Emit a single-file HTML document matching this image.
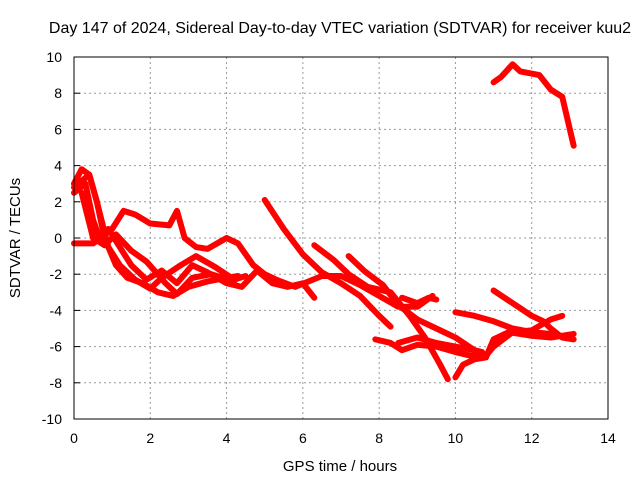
<!DOCTYPE html>
<html><head><meta charset="utf-8"><style>body{margin:0;background:#fff}svg text{font-family:"Liberation Sans",sans-serif;font-size:14px;fill:#000}</style></head>
<body>
<svg id="c" width="640" height="480">
<text x="340" y="33" text-anchor="middle" style="font-size:16px">Day 147 of 2024, Sidereal Day-to-day VTEC variation (SDTVAR) for receiver kuu2</text>
<text x="340" y="471" text-anchor="middle" style="font-size:15px">GPS time / hours</text>
<text transform="translate(20,238) rotate(-90)" text-anchor="middle" style="font-size:15px">SDTVAR / TECUs</text>
<g id="grid"></g><g id="series"></g>
<rect x="74" y="57" width="534" height="362" fill="none" stroke="#000"/>
<g id="ticks"></g>
</svg>
<script>
const xTicks=[0,2,4,6,8,10,12,14];
const yTicks=[-10,-8,-6,-4,-2,0,2,4,6,8,10];
const s1=[[0,-0.3],[0.5,-0.3],[1,0.5],[1.3,1.5],[1.6,1.3],[2,0.8],[2.5,0.7],[2.7,1.5],[2.9,0],[3.2,-0.5],[3.5,-0.6],[4,0],[4.3,-0.3],[4.7,-1.5],[5,-2],[5.3,-2.3],[5.8,-2.7],[6.5,-2.1],[7,-2.1],[7.5,-2.6],[8,-3.2],[8.5,-3.8],[9,-3.8],[9.4,-3.2]];
const s2=[[0,3],[0.2,3.8],[0.4,3.5],[0.6,2],[0.8,0],[1.1,-1.5],[1.4,-2.2],[1.8,-2.5],[2.2,-3],[2.6,-3.2],[3,-2.7],[3.5,-2.4],[4,-2.2],[4.3,-2.1]];
const s3=[[0,2.5],[0.3,3],[0.5,1],[0.7,-0.2],[0.9,0.5],[1.2,-0.5],[1.5,-1.5],[1.9,-2.3],[2.3,-1.8],[2.7,-2.5],[3.1,-1.5],[3.5,-1.9],[4,-2.5],[4.4,-2.7],[4.8,-1.8],[5.2,-2.5],[5.6,-2.7],[6,-2.5],[6.3,-3.3]];
const s4=[[0,2.8],[0.4,3.5],[0.6,2],[0.9,-0.5],[1.2,-1.5],[1.6,-2.3],[2,-2.8],[2.3,-2.2],[2.8,-1.5],[3.2,-1],[3.7,-1.6],[4.2,-2.3],[4.5,-2.1]];
const s5=[[0.2,2.5],[0.5,0],[0.8,-0.4],[1.1,0.2],[1.5,-0.7],[1.9,-1.3],[2.4,-2.5],[2.7,-3.1],[3.1,-2.2],[3.6,-2],[4.2,-2.4]];
const s6=[[5,2.1],[5.5,0.5],[6,-0.9],[6.5,-1.9],[7,-2.5],[7.5,-3.2],[8,-4.3],[8.3,-4.9]];
const s7=[[6.3,-0.4],[6.8,-1.2],[7.2,-2],[7.7,-2.7],[8.3,-3],[8.8,-4.3],[9.2,-5.5],[9.6,-7],[9.8,-7.8]];
const s8=[[7.2,-1],[7.6,-1.8],[8.1,-2.6],[8.5,-3.7],[9,-4.5],[9.5,-5],[10,-5.5],[10.5,-6.2],[10.7,-6.3]];
const s9=[[7.9,-5.6],[8.3,-5.8],[8.6,-6.2],[9,-5.9],[9.5,-6],[10,-6.3],[10.4,-6.5],[10.8,-6.5],[11,-6],[11.5,-5.2],[12,-5.1],[12.5,-4.5],[12.8,-4.3]];
const s10=[[8.6,-3.3],[9,-3.6],[9.3,-3.3],[9.5,-3.4]];
const s11=[[8.5,-5.8],[9,-5.5],[9.5,-5.8],[10,-6],[10.5,-6.2]];
const s12=[[10,-4.1],[10.5,-4.3],[11,-4.6],[11.5,-5],[12,-5.2],[12.5,-5.3],[13,-5.5]];
const s13=[[11,-2.9],[11.5,-3.6],[12,-4.3],[12.3,-4.6],[12.5,-5],[12.8,-5.5],[13.1,-5.6]];
const s14=[[10,-7.7],[10.2,-7],[10.5,-6.7],[10.8,-6.6],[11,-5.6],[11.4,-5.2],[12,-5.4],[12.5,-5.5],[13.1,-5.3]];
const s15=[[11,8.6],[11.2,8.9],[11.5,9.6],[11.7,9.2],[12.2,9],[12.5,8.2],[12.8,7.8],[13.1,5.1]];
const allSeries=[s1,s2,s3,s4,s5,s6,s7,s8,s9,s10,s11,s12,s13,s14,s15];
const NS='http://www.w3.org/2000/svg';
const X=v=>74+v*(534/14), Y=v=>238-v*(362/20);
const grid=document.getElementById('grid'),ticks=document.getElementById('ticks'),ser=document.getElementById('series');
function mk(tag,attrs,parent){const e=document.createElementNS(NS,tag);for(const k in attrs)e.setAttribute(k,attrs[k]);parent.appendChild(e);return e;}
xTicks.forEach(t=>{
 if(t>0&&t<14){const g=mk('line',{x1:X(t),x2:X(t),y1:57,y2:419,stroke:'#999','stroke-dasharray':'2,3'},grid);
 
 }
 const l=mk('text',{x:X(t),y:443,'text-anchor':'middle'},ticks);l.textContent=t;
 
 
});
yTicks.forEach(t=>{
 if(t>-10&&t<10){const g=mk('line',{x1:74,x2:608,y1:Y(t),y2:Y(t),stroke:'#999','stroke-dasharray':'2,3'},grid);
 
 }
 mk('line',{x1:74,x2:80,y1:Y(t),y2:Y(t),stroke:'#000'},ticks);
 const l=mk('text',{x:62,y:Y(t)+5,'text-anchor':'end'},ticks);l.textContent=t;
 
 
});
allSeries.forEach((s,i)=>{
 const p=mk('polyline',{points:s.map(d=>X(d[0])+','+Y(d[1])).join(' '),fill:'none',stroke:'#f00','stroke-width':6,'stroke-linejoin':'round','stroke-linecap':'round'},ser);
 
 
});
</script>
</body></html>
